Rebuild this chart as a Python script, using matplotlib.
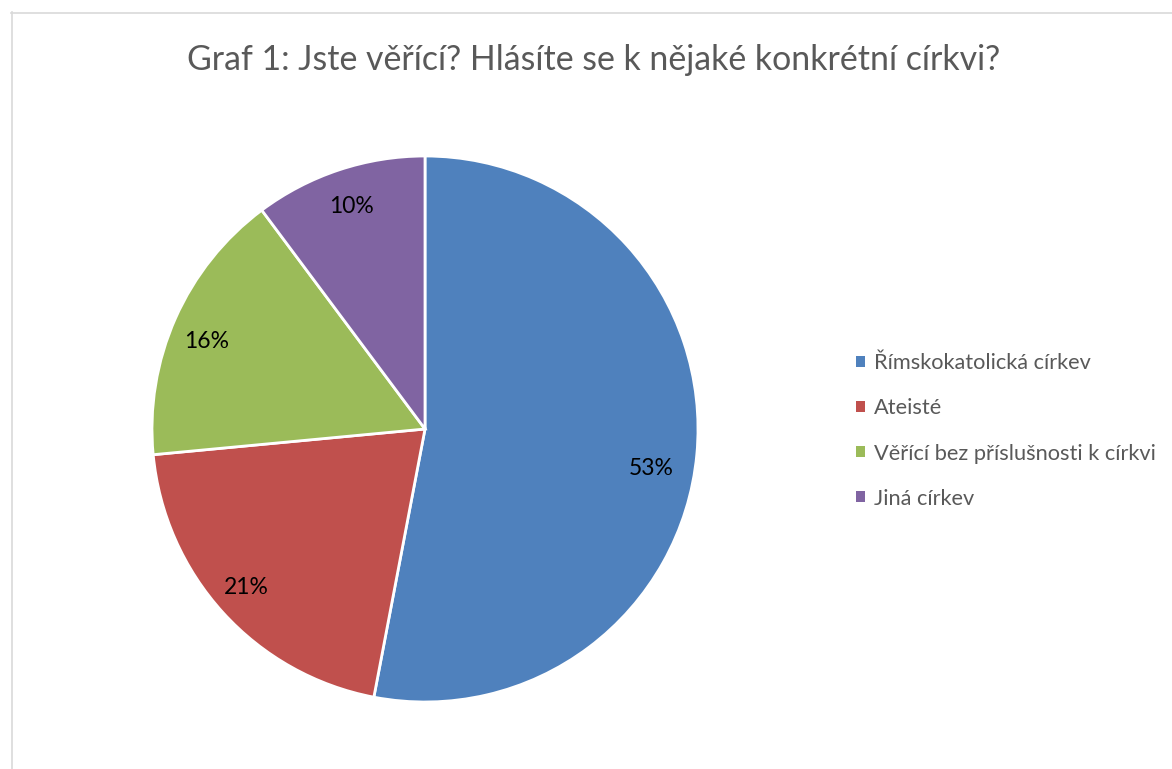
import matplotlib
matplotlib.use("Agg")
import numpy as np
import matplotlib.pyplot as plt
from matplotlib.patches import Patch
from matplotlib.lines import Line2D

title = "Graf 1: Jste věřící? Hlásíte se k nějaké konkrétní církvi?"
categories = ["Římskokatolická církev", "Ateisté", "Věřící bez příslušnosti k církvi", "Jiná církev"]
values = [53.0, 20.5, 16.3, 10.2]
pct_labels = ["53%", "21%", "16%", "10%"]
colors = ["#4f81bd", "#c0504d", "#9bbb59", "#8064a2"]

plt.rcParams['font.family'] = ['Lato', 'DejaVu Sans']

W, H = 1172, 769
fig = plt.figure(figsize=(W / 100, H / 100), dpi=100)
fig.patch.set_facecolor("white")

cx, cy, r = 425, 429, 273
ax = fig.add_axes([(cx - r) / W, (H - cy - r) / H, 2 * r / W, 2 * r / H])
wedges, texts, autotexts = ax.pie(
    values, colors=colors, startangle=90, counterclock=False,
    autopct=lambda p: "", pctdistance=0.86,
    wedgeprops=dict(edgecolor="white", linewidth=2.0),
)
for t, lab in zip(autotexts, pct_labels):
    t.set_text(lab)
    t.set_fontsize(16.5)
    t.set_color("#000000")
# Excel best-fit nudges for the labels
w0 = wedges[0]
ang = np.deg2rad((w0.theta1 + w0.theta2) / 2 - 4.5)
autotexts[0].set_position((0.84 * np.cos(ang), 0.84 * np.sin(ang)))
x2, y2 = autotexts[2].get_position()
autotexts[2].set_position((x2 - 0.015, y2 - 0.03))
x1, y1 = autotexts[1].get_position()
autotexts[1].set_position((x1 - 0.02, y1))
ax.set_xlim(-1, 1)
ax.set_ylim(-1, 1)
ax.set_aspect("equal")
ax.axis("off")

fig.text(594 / W, 1 - 60 / H, title, ha="center", va="center",
         fontsize=24.4, color="#595959")

handles = [Patch(facecolor=c, edgecolor="none") for c in colors]
fig.legend(handles, categories, loc="center left",
           bbox_to_anchor=(836 / W, 1 - 431 / H), frameon=False,
           fontsize=15.7, labelcolor="#595959", handlelength=0.42, handleheight=0.42,
           handletextpad=0.42, labelspacing=1.15)

fig.add_artist(Line2D([11.5 / W, 11.5 / W], [0, 1 - 12 / H], color="#d9d9d9", lw=1.2))
fig.add_artist(Line2D([11 / W, 1], [1 - 12.5 / H, 1 - 12.5 / H], color="#d9d9d9", lw=1.2))

fig.savefig("out.png", dpi=100)
